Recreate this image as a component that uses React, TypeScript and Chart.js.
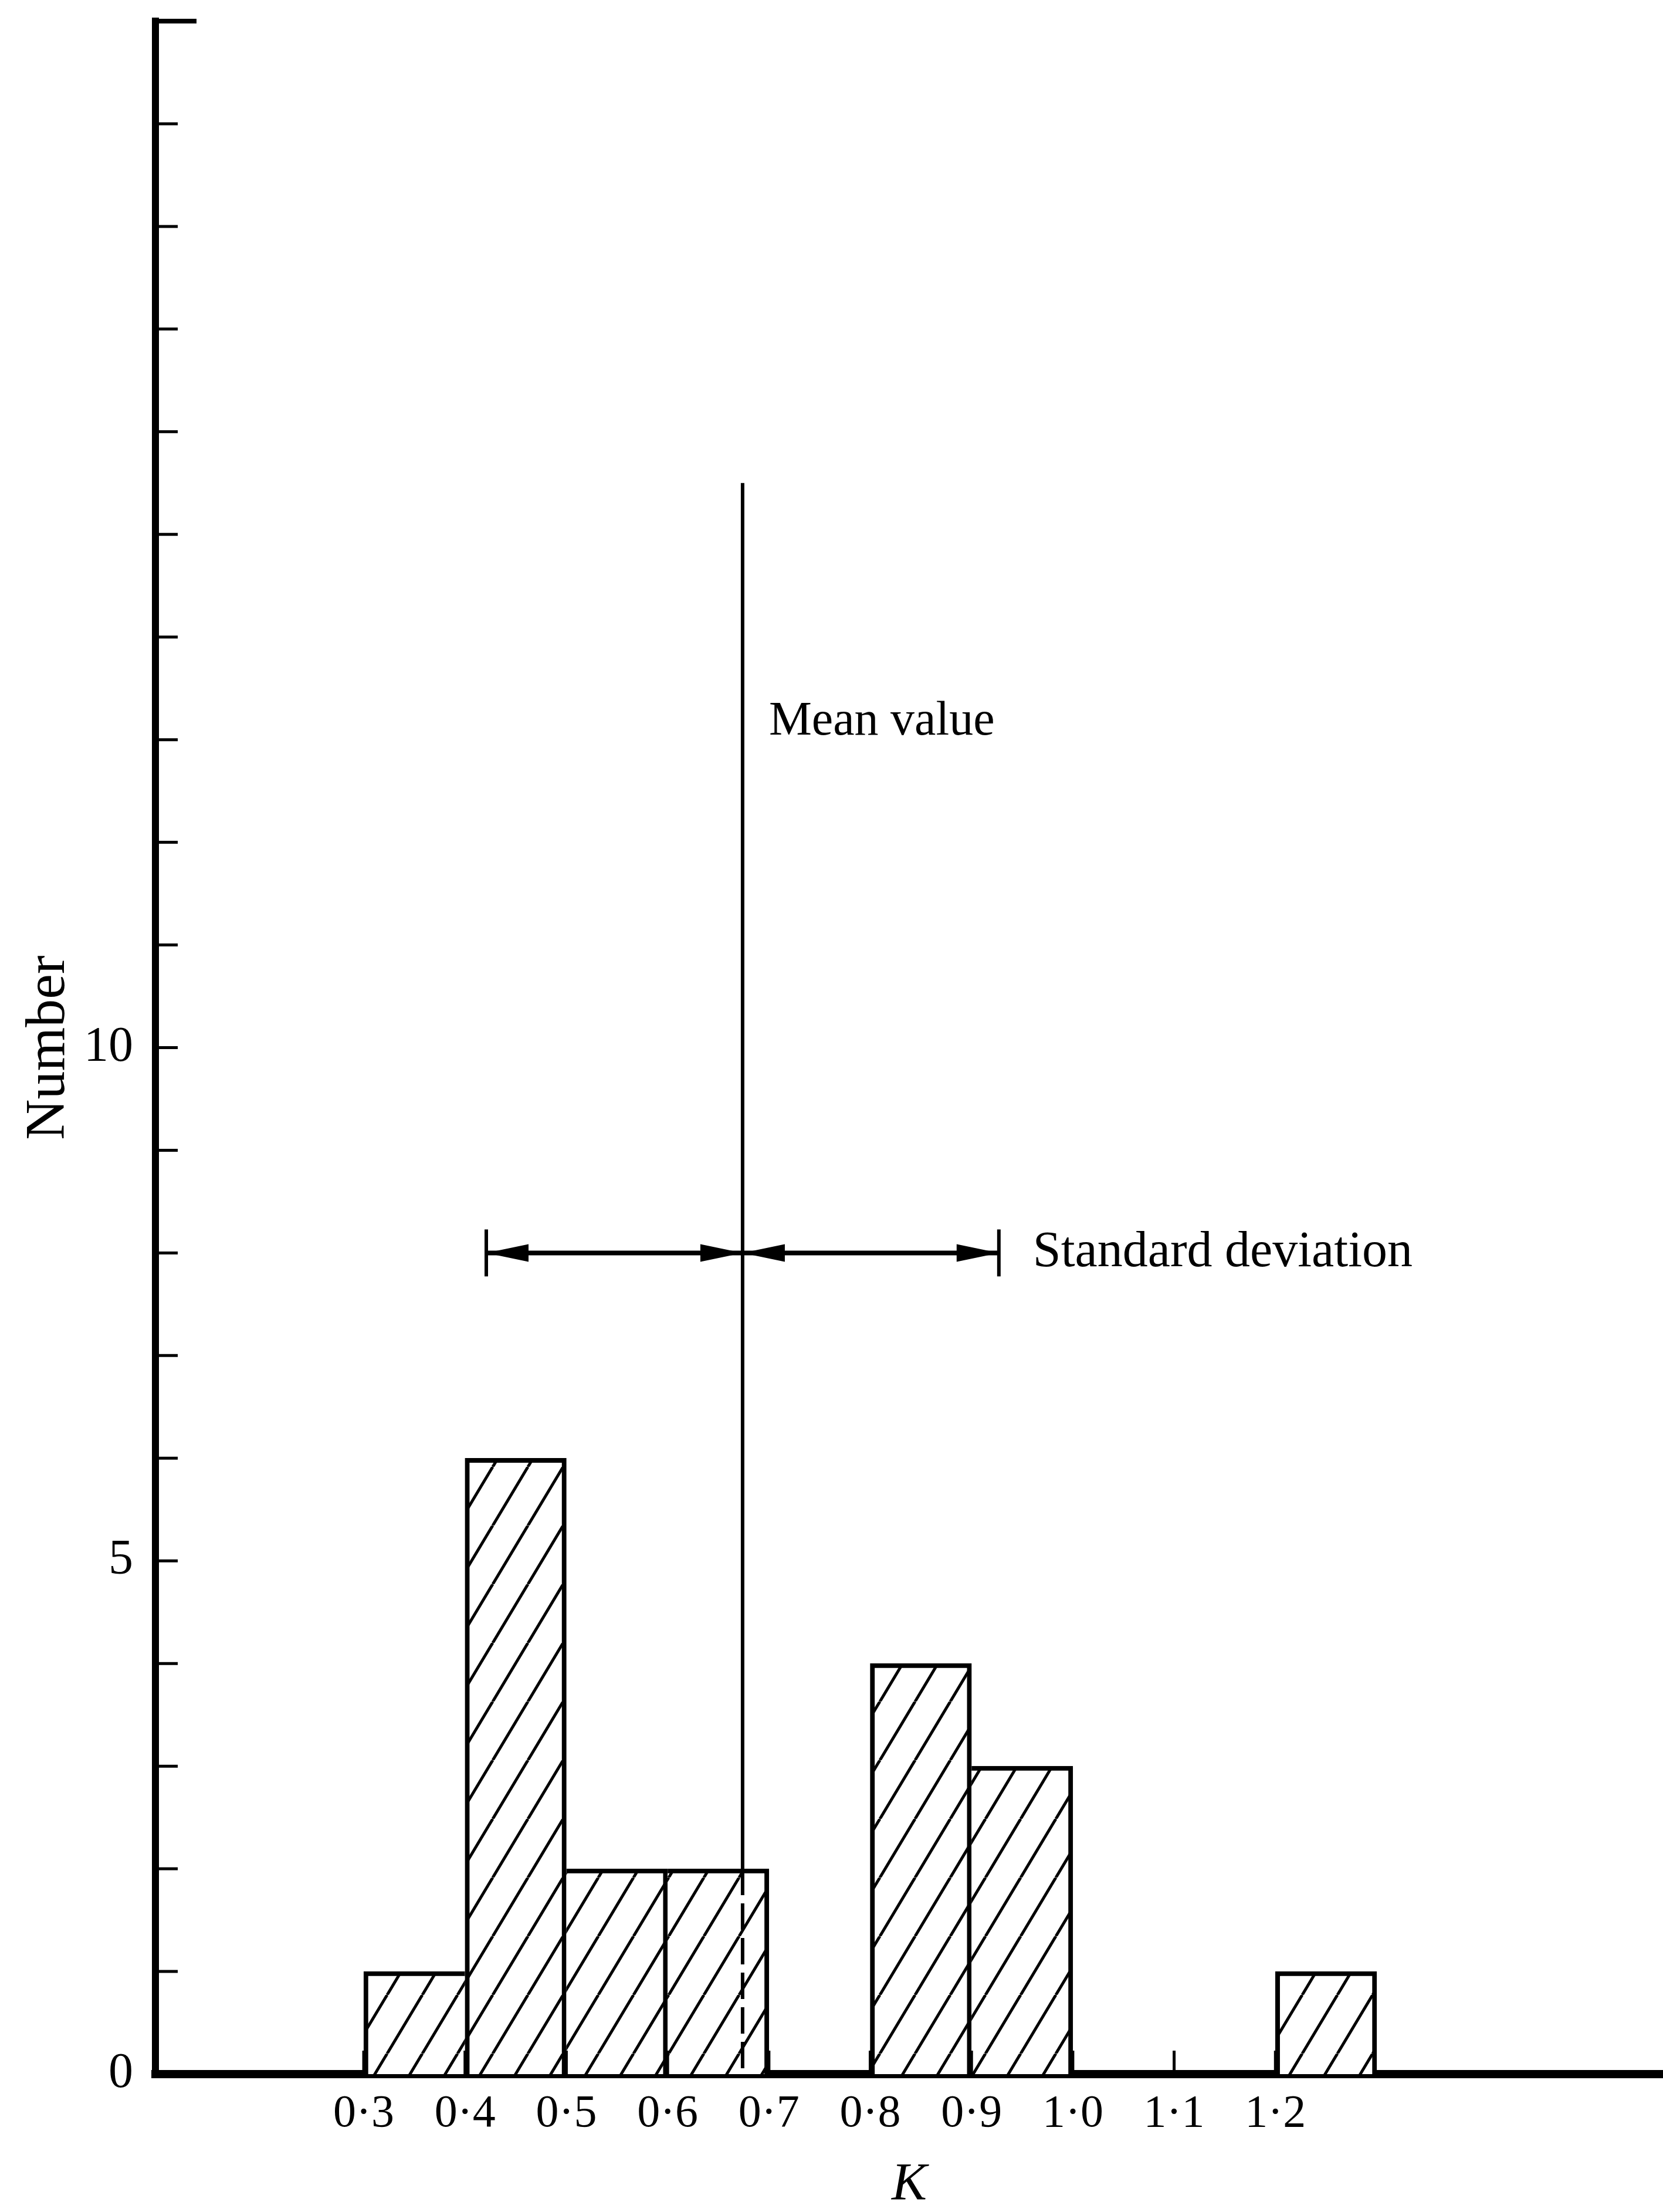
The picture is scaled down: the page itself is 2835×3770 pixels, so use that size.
import React, { useEffect, useRef } from 'react';
import { Chart, registerables } from 'chart.js';

Chart.register(...registerables);

// ---- data ----
const binStarts = [0.3, 0.4, 0.5, 0.6, 0.7, 0.8, 0.9, 1.0, 1.1, 1.2];
const binCounts = [1, 6, 2, 2, 0, 4, 3, 0, 0, 1];
const BIN_WIDTH = 0.1;
const xTickValues = [0.3, 0.4, 0.5, 0.6, 0.7, 0.8, 0.9, 1.0, 1.1, 1.2];
const xTickLabels = ['0·3', '0·4', '0·5', '0·6', '0·7', '0·8', '0·9', '1·0', '1·1', '1·2'];
const yTickLabelValues = [0, 5, 10];
const xRange = [0.0944, 1.5826];
const yRange = [0, 20];
const meanK = 0.674;
const sdK = 0.253;
const sdLevel = 8;
const meanLineTop = 15.5;
const meanLabelLevel = 13.05;
const xTitle = 'K';
const yTitle = 'Number';
const meanLabel = 'Mean value';
const sdLabel = 'Standard deviation';

const FAMILY = '"Liberation Serif", "Times New Roman", serif';
const INK = '#000';

export default function App() {
  const ref = useRef<HTMLCanvasElement>(null);

  useEffect(() => {
    const canvas = ref.current;
    if (!canvas) return;

    // diagonal hatch pattern
    const tile = document.createElement('canvas');
    const TW = 60, TH = 100;
    tile.width = TW;
    tile.height = TH;
    const t = tile.getContext('2d')!;
    t.fillStyle = '#fff';
    t.fillRect(0, 0, TW, TH);
    t.strokeStyle = INK;
    t.lineWidth = 5;
    for (const dx of [-TW, 0, TW]) {
      t.beginPath();
      t.moveTo(dx, TH);
      t.lineTo(dx + TW, 0);
      t.stroke();
    }
    const pattern = canvas.getContext('2d')!.createPattern(tile, 'repeat')!;

    const points = binStarts
      .map((s, i) => ({ x: s + BIN_WIDTH / 2, y: binCounts[i], bin: i }))
      .filter((p) => p.y > 0);

    const annotations = {
      id: 'annotations',
      afterDraw(chart: any) {
        const { ctx, chartArea } = chart;
        const x = chart.scales.x;
        const y = chart.scales.y;
        ctx.save();
        ctx.strokeStyle = INK;
        ctx.fillStyle = INK;

        // inward y tick marks
        y.ticks.forEach((tk: any) => {
          if (tk.value === yRange[0]) return;
          const py = y.getPixelForValue(tk.value);
          const isTop = tk.value === yRange[1];
          ctx.lineWidth = isTop ? 8 : 5;
          ctx.beginPath();
          ctx.moveTo(chartArea.left, py);
          ctx.lineTo(chartArea.left + (isTop ? 70 : 38), py);
          ctx.stroke();
        });

        // inward x tick marks
        ctx.lineWidth = 5;
        x.ticks.forEach((tk: any) => {
          const px = x.getPixelForValue(tk.value);
          ctx.beginPath();
          ctx.moveTo(px, chartArea.bottom);
          ctx.lineTo(px, chartArea.bottom - 40);
          ctx.stroke();
        });

        // mean value line
        const mx = x.getPixelForValue(meanK);
        const binIdx = binStarts.findIndex((s) => meanK >= s && meanK < s + BIN_WIDTH);
        const barTop = binIdx >= 0 ? binCounts[binIdx] : 0;
        ctx.lineWidth = 6;
        ctx.beginPath();
        ctx.moveTo(mx, y.getPixelForValue(meanLineTop));
        ctx.lineTo(mx, y.getPixelForValue(barTop));
        ctx.stroke();
        ctx.setLineDash([45, 14]);
        ctx.beginPath();
        ctx.moveTo(mx, y.getPixelForValue(barTop));
        ctx.lineTo(mx, y.getPixelForValue(0));
        ctx.stroke();
        ctx.setLineDash([]);

        // standard deviation arrows
        const sy = y.getPixelForValue(sdLevel);
        const xl = x.getPixelForValue(meanK - sdK);
        const xr = x.getPixelForValue(meanK + sdK);
        ctx.lineWidth = 8;
        ctx.beginPath();
        ctx.moveTo(xl, sy);
        ctx.lineTo(xr, sy);
        ctx.stroke();
        ctx.lineWidth = 6;
        for (const ex of [xl, xr]) {
          ctx.beginPath();
          ctx.moveTo(ex, sy - 40);
          ctx.lineTo(ex, sy + 40);
          ctx.stroke();
        }
        const head = (tip: number, dir: number) => {
          ctx.beginPath();
          ctx.moveTo(tip, sy);
          ctx.lineTo(tip - dir * 72, sy - 15);
          ctx.lineTo(tip - dir * 72, sy + 15);
          ctx.closePath();
          ctx.fill();
        };
        head(xl, -1);
        head(mx, 1);
        head(mx, -1);
        head(xr, 1);

        // labels
        ctx.textAlign = 'left';
        ctx.font = `82px ${FAMILY}`;
        ctx.textBaseline = 'alphabetic';
        ctx.fillText(meanLabel, mx + 45, y.getPixelForValue(meanLabelLevel));
        ctx.font = `86px ${FAMILY}`;
        ctx.textBaseline = 'middle';
        ctx.fillText(sdLabel, xr + 58, sy);

        ctx.restore();
      },
    };

    const chart = new Chart(canvas, {
      type: 'bar',
      data: {
        datasets: [
          {
            data: points as any,
            backgroundColor: pattern as any,
            borderColor: INK,
            borderSkipped: false,
            borderWidth: ((c: any) => {
              const raw = c.raw;
              if (!raw) return 0;
              const i = raw.bin;
              const v = binCounts[i];
              const prev = i > 0 ? binCounts[i - 1] : 0;
              const next = i < binCounts.length - 1 ? binCounts[i + 1] : 0;
              return { top: 8, bottom: 0, left: prev < v ? 8 : 0, right: next <= v ? 8 : 0 };
            }) as any,
            barPercentage: 1,
            categoryPercentage: 1,
          },
        ],
      },
      options: {
        responsive: false,
        animation: false,
        devicePixelRatio: 1,
        layout: { padding: { top: 36, right: 0, bottom: 0, left: 0 } },
        plugins: { legend: { display: false }, tooltip: { enabled: false } },
        scales: {
          x: {
            type: 'linear',
            offset: false,
            min: xRange[0],
            max: xRange[1],
            z: 1,
            afterBuildTicks: (s: any) => {
              s.ticks = xTickValues.map((v) => ({ value: v }));
            },
            afterFit: (s: any) => {
              s.height = 235;
              s.paddingLeft = 0;
              s.paddingRight = 0;
            },
            grid: { display: false, drawTicks: false },
            border: { display: true, color: INK, width: 14 },
            ticks: {
              autoSkip: false,
              maxRotation: 0,
              padding: 22,
              color: INK,
              font: { family: FAMILY, size: 78 },
              callback: (_v: any, i: number) => xTickLabels[i] ?? '',
            },
            title: {
              display: true,
              text: xTitle,
              color: INK,
              font: { family: FAMILY, size: 90, style: 'italic', lineHeight: 1 },
              padding: { top: 0, bottom: 0 },
            },
          },
          y: {
            type: 'linear',
            min: yRange[0],
            max: yRange[1],
            z: 1,
            afterFit: (s: any) => {
              s.width = 265;
              s.paddingTop = 0;
              s.paddingBottom = 0;
            },
            grid: { display: false, drawTicks: false },
            border: { display: true, color: INK, width: 12 },
            ticks: {
              stepSize: 1,
              autoSkip: false,
              padding: 38,
              color: INK,
              font: { family: FAMILY, size: 84 },
              callback: (v: any) => (yTickLabelValues.includes(Number(v)) ? String(v) : ''),
            },
            title: {
              display: true,
              text: yTitle,
              color: INK,
              font: { family: FAMILY, size: 96, lineHeight: 1.2 },
              padding: { top: 26, bottom: 0 },
            },
          },
        },
      } as any,
      plugins: [annotations],
    });

    return () => chart.destroy();
  }, []);

  return (
    <div style={{ position: 'absolute', left: 0, top: 0, width: 2835, height: 3770, background: '#fff' }}>
      <canvas ref={ref} width={2835} height={3770} style={{ display: 'block' }} />
    </div>
  );
}
